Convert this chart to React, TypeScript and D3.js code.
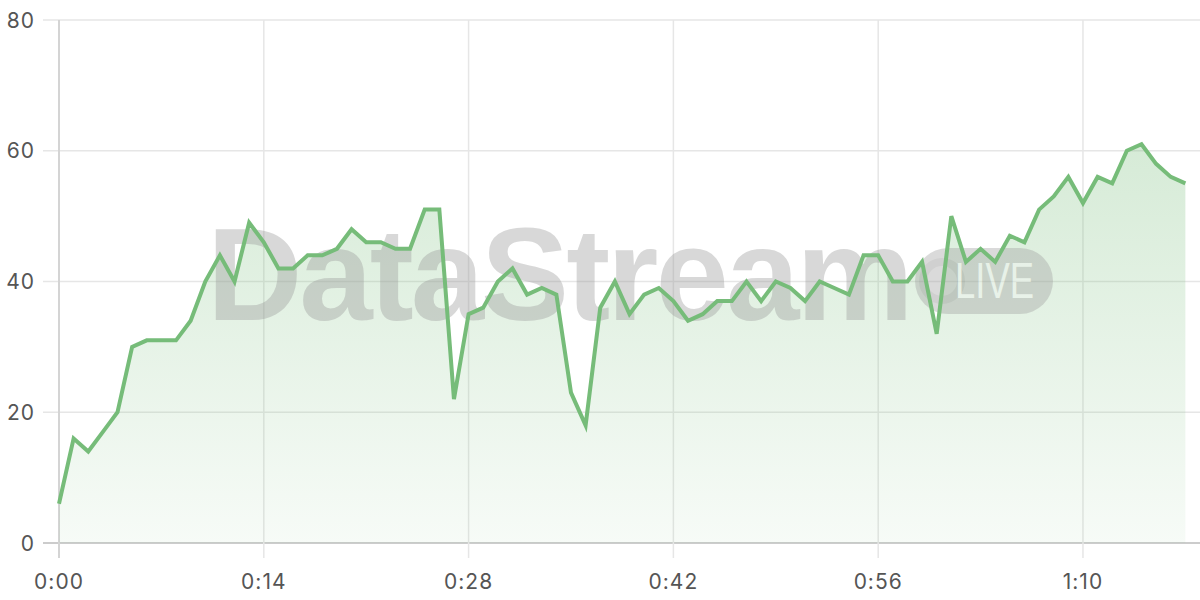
import React from "react";
import * as d3 from "d3";

const values: number[] = [
  6, 16, 14, 17, 20, 30, 31, 31, 31, 34,
  40, 44, 40, 49, 46, 42, 42, 44, 44, 45,
  48, 46, 46, 45, 45, 51, 51, 22, 35, 36,
  40, 42, 38, 39, 38, 23, 18, 36, 40, 35,
  38, 39, 37, 34, 35, 37, 37, 40, 37, 40,
  39, 37, 40, 39, 38, 44, 44, 40, 40, 43,
  32, 50, 43, 45, 43, 47, 46, 51, 53, 56,
  52, 56, 55, 60, 61, 58, 56, 55,
];
const xTickSeconds: number[] = [0, 14, 28, 42, 56, 70];
const xTickLabels: string[] = ["0:00", "0:14", "0:28", "0:42", "0:56", "1:10"];
const yTicks: number[] = [0, 20, 40, 60, 80];

const W = 1200;
const H = 600;
const M = { left: 59, right: 0, top: 20, bottom: 57 };
const FONT = "Inter, 'Noto Sans', sans-serif";

export default function App() {
  const x = d3.scaleLinear().domain([0, 78]).range([M.left, W - M.right]);
  const y = d3.scaleLinear().domain([0, 80]).range([H - M.bottom, M.top]);
  const line = d3
    .line<number>()
    .x((_, i) => x(i))
    .y((d) => y(d));
  const area = d3
    .area<number>()
    .x((_, i) => x(i))
    .y0(y(0))
    .y1((d) => y(d));
  const y0 = y(0);
  return (
    <svg
      width={W}
      height={H}
      style={{ position: "absolute", left: 0, top: 0, background: "#fff" }}
    >
      <defs>
        <linearGradient id="areaGrad" x1="0" y1="0" x2="0" y2="1">
          <stop offset="0%" stopColor="#76bc79" stopOpacity={0.3} />
          <stop offset="100%" stopColor="#76bc79" stopOpacity={0.06} />
        </linearGradient>
      </defs>
      {yTicks.map((t) => (
        <line
          key={"gy" + t}
          x1={M.left - 16}
          x2={W}
          y1={y(t)}
          y2={y(t)}
          stroke={t === 0 ? "#cccccc" : "#e6e6e6"}
          strokeWidth={t === 0 ? 2 : 1.5}
        />
      ))}
      {xTickSeconds.map((t) => (
        <line
          key={"gx" + t}
          x1={x(t)}
          x2={x(t)}
          y1={M.top}
          y2={y0 + 15}
          stroke={t === 0 ? "#d4d4d4" : "#e6e6e6"}
          strokeWidth={t === 0 ? 2 : 1.5}
        />
      ))}
      <path d={area(values) || ""} fill="url(#areaGrad)" />
      <g opacity={0.38}>
        <text
          x={207}
          y={320}
          fontFamily="'Liberation Sans', Arial, sans-serif"
          fontWeight={700}
          fontSize={132}
          fill="#9a9a9a"
          letterSpacing={-3}
        >
          DataStream
        </text>
        <rect x={915} y={248} width={138} height={66} rx={33} fill="#a0a0a0" />
        <circle cx={942} cy={281} r={19} fill="none" stroke="#858585" strokeWidth={8} />
        <text
          x={955}
          y={298}
          fontFamily="'Liberation Sans', Arial, sans-serif"
          fontWeight={400}
          fontSize={50}
          fill="#f4f4f4"
          textLength={79}
          lengthAdjust="spacingAndGlyphs"
        >
          LIVE
        </text>
      </g>
      <path
        d={line(values) || ""}
        fill="none"
        stroke="#76bc79"
        strokeWidth={4}
        strokeLinejoin="miter"
      />
      {yTicks.map((t) => (
        <text
          key={"ly" + t}
          x={35}
          y={y(t)}
          dy="0.36em"
          textAnchor="end"
          fontFamily={FONT}
          fontSize={21}
          fill="#555"
          letterSpacing={1}
        >
          {t}
        </text>
      ))}
      {xTickSeconds.map((t, i) => (
        <text
          key={"lx" + t}
          x={x(t)}
          y={589}
          textAnchor="middle"
          fontFamily={FONT}
          fontSize={21}
          fill="#555"
          letterSpacing={1}
        >
          {xTickLabels[i]}
        </text>
      ))}
    </svg>
  );
}
